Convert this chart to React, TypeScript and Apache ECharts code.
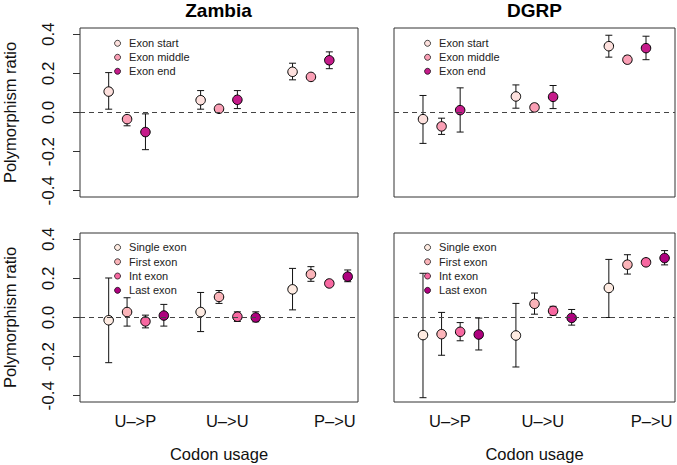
import React, { useEffect, useRef } from "react";
import * as echarts from "echarts";

// ---- Data ----
const CATEGORIES = ["U–>P", "U–>U", "P–>U"];
const CATEGORY_TICKS = [2.45, 7.45, 13.3];
const Y_TICKS = [-0.4, -0.2, 0, 0.2, 0.4];

const TOP_NAMES = ["Exon start", "Exon middle", "Exon end"];
const BOTTOM_NAMES = ["Single exon", "First exon", "Int exon", "Last exon"];

// Zambia, exon position (top-left)
const zambiaStart = [0.107, 0.063, 0.208];
const zambiaStartLo = [0.017, 0.017, 0.167];
const zambiaStartHi = [0.204, 0.112, 0.252];
const zambiaMiddle = [-0.034, 0.019, 0.182];
const zambiaMiddleLo = [-0.068, 0.01, 0.172];
const zambiaMiddleHi = [-0.017, 0.028, 0.192];
const zambiaEnd = [-0.1, 0.065, 0.267];
const zambiaEndLo = [-0.19, 0.02, 0.224];
const zambiaEndHi = [-0.007, 0.112, 0.31];

// DGRP, exon position (top-right)
const dgrpStart = [-0.034, 0.082, 0.339];
const dgrpStartLo = [-0.158, 0.022, 0.283];
const dgrpStartHi = [0.087, 0.141, 0.395];
const dgrpMiddle = [-0.071, 0.026, 0.27];
const dgrpMiddleLo = [-0.112, 0.009, 0.255];
const dgrpMiddleHi = [-0.029, 0.043, 0.288];
const dgrpEnd = [0.012, 0.08, 0.329];
const dgrpEndLo = [-0.1, 0.02, 0.27];
const dgrpEndHi = [0.126, 0.138, 0.39];

// Zambia, exon type (bottom-left)
const zambiaSingle = [-0.014, 0.028, 0.144];
const zambiaSingleLo = [-0.231, -0.072, 0.039];
const zambiaSingleHi = [0.202, 0.128, 0.251];
const zambiaFirst = [0.028, 0.105, 0.221];
const zambiaFirstLo = [-0.044, 0.072, 0.185];
const zambiaFirstHi = [0.101, 0.138, 0.26];
const zambiaInt = [-0.02, 0.004, 0.174];
const zambiaIntLo = [-0.053, -0.02, 0.165];
const zambiaIntHi = [0.012, 0.029, 0.183];
const zambiaLast = [0.01, 0.0, 0.209];
const zambiaLastLo = [-0.044, -0.022, 0.183];
const zambiaLastHi = [0.067, 0.029, 0.243];

// DGRP, exon type (bottom-right)
const dgrpSingle = [-0.09, -0.092, 0.151];
const dgrpSingleLo = [-0.41, -0.253, 0.0];
const dgrpSingleHi = [0.226, 0.072, 0.297];
const dgrpFirst = [-0.085, 0.07, 0.27];
const dgrpFirstLo = [-0.193, 0.017, 0.222];
const dgrpFirstHi = [0.026, 0.125, 0.321];
const dgrpInt = [-0.073, 0.034, 0.282];
const dgrpIntLo = [-0.119, 0.012, 0.265];
const dgrpIntHi = [-0.026, 0.057, 0.3];
const dgrpLast = [-0.087, -0.002, 0.304];
const dgrpLastLo = [-0.166, -0.039, 0.269];
const dgrpLastHi = [-0.003, 0.041, 0.342];

// ---- Styles ----
const TOP_COLORS = ["#FDE0DD", "#FA9FB5", "#C51B8A"];
const BOTTOM_COLORS = ["#FEEBE2", "#FBB4B9", "#F768A1", "#AE017E"];
const FONT = "Liberation Sans, Arial, Helvetica, sans-serif";

type Panel = {
  grid: { left: number; top: number; width: number; height: number };
  title?: string;
  names: string[];
  colors: string[];
  est: number[][];
  lo: number[][];
  hi: number[][];
  showY: boolean;
  showX: boolean;
  legendTop: number;
  legendLeft: number;
  legendLineHeight: number;
};

const PANELS: Panel[] = [
  {
    grid: { left: 79, top: 28, width: 279, height: 169 },
    title: "Zambia",
    names: TOP_NAMES,
    colors: TOP_COLORS,
    est: [zambiaStart, zambiaMiddle, zambiaEnd],
    lo: [zambiaStartLo, zambiaMiddleLo, zambiaEndLo],
    hi: [zambiaStartHi, zambiaMiddleHi, zambiaEndHi],
    showY: true,
    showX: false,
    legendTop: 36.3,
    legendLeft: 114.2,
    legendLineHeight: 14,
  },
  {
    grid: { left: 394, top: 28, width: 281, height: 169 },
    title: "DGRP",
    names: TOP_NAMES,
    colors: TOP_COLORS,
    est: [dgrpStart, dgrpMiddle, dgrpEnd],
    lo: [dgrpStartLo, dgrpMiddleLo, dgrpEndLo],
    hi: [dgrpStartHi, dgrpMiddleHi, dgrpEndHi],
    showY: false,
    showX: false,
    legendTop: 36.3,
    legendLeft: 424.2,
    legendLineHeight: 14,
  },
  {
    grid: { left: 79, top: 233, width: 279, height: 169 },
    names: BOTTOM_NAMES,
    colors: BOTTOM_COLORS,
    est: [zambiaSingle, zambiaFirst, zambiaInt, zambiaLast],
    lo: [zambiaSingleLo, zambiaFirstLo, zambiaIntLo, zambiaLastLo],
    hi: [zambiaSingleHi, zambiaFirstHi, zambiaIntHi, zambiaLastHi],
    showY: true,
    showX: true,
    legendTop: 240.3,
    legendLeft: 114.2,
    legendLineHeight: 14.3,
  },
  {
    grid: { left: 394, top: 233, width: 281, height: 169 },
    names: BOTTOM_NAMES,
    colors: BOTTOM_COLORS,
    est: [dgrpSingle, dgrpFirst, dgrpInt, dgrpLast],
    lo: [dgrpSingleLo, dgrpFirstLo, dgrpIntLo, dgrpLastLo],
    hi: [dgrpSingleHi, dgrpFirstHi, dgrpIntHi, dgrpLastHi],
    showY: false,
    showX: true,
    legendTop: 240.3,
    legendLeft: 424.2,
    legendLineHeight: 14.3,
  },
];

function buildOption() {
  const grid: any[] = [];
  const xAxis: any[] = [];
  const yAxis: any[] = [];
  const series: any[] = [];
  const legend: any[] = [];
  const title: any[] = [];

  PANELS.forEach((p, pi) => {
    grid.push({
      ...p.grid,
      show: true,
      borderColor: "#333",
      borderWidth: 1,
      backgroundColor: "transparent",
    });
    xAxis.push({
      type: "value",
      gridIndex: pi,
      position: "bottom",
      min: -0.56,
      max: 14.56,
      splitLine: { show: false },
      axisLine: { show: false, onZero: false },
      axisTick: { show: false },
      name: p.showX ? "Codon usage" : "",
      nameLocation: "middle",
      nameGap: 43,
      nameTextStyle: { fontSize: 16.5, color: "#111", fontFamily: FONT },
      axisLabel: {
        show: p.showX,
        customValues: CATEGORY_TICKS,
        margin: 10,
        fontSize: 16.5,
        color: "#111",
        fontFamily: FONT,
        formatter: (v: number) => {
          const i = CATEGORY_TICKS.findIndex((t) => Math.abs(t - v) < 1e-6);
          return i >= 0 ? CATEGORIES[i] : "";
        },
      },
    });
    yAxis.push({
      type: "value",
      gridIndex: pi,
      position: "left",
      min: -0.432,
      max: 0.432,
      splitLine: { show: false },
      axisLine: { show: false, onZero: false },
      axisTick: {
        show: p.showY,
        customValues: Y_TICKS,
        length: 7,
        lineStyle: { color: "#333", width: 1 },
      },
      name: p.showY ? "Polymorphism ratio" : "",
      nameLocation: "middle",
      nameRotate: 90,
      nameGap: 62,
      nameTextStyle: { fontSize: 16.5, color: "#111", fontFamily: FONT },
      axisLabel: {
        show: p.showY,
        customValues: Y_TICKS,
        rotate: 90,
        margin: 23,
        fontSize: 17,
        color: "#111",
        fontFamily: FONT,
        formatter: (v: number) => (Math.abs(v) < 1e-9 ? "0.0" : v.toFixed(1)),
      },
    });

    if (p.title) {
      title.push({
        text: p.title,
        left: p.grid.left + p.grid.width / 2,
        top: 1,
        textAlign: "center",
        padding: 0,
        textStyle: { fontSize: 19, fontWeight: "bold", color: "#000", fontFamily: FONT },
      });
    }

    legend.push({
      orient: "vertical",
      left: p.legendLeft,
      top: p.legendTop,
      padding: 0,
      itemGap: 0,
      itemWidth: 13,
      itemHeight: 6,
      icon: "circle",
      selectedMode: false,
      data: p.names,
      itemStyle: { borderColor: "#000", borderWidth: 0.7 },
      textStyle: {
        fontSize: 11,
        color: "#222",
        fontFamily: FONT,
        lineHeight: p.legendLineHeight,
      },
    });

    // error bars
    p.names.forEach((name, si) => {
      const data = p.est[si].map((_, gi) => [1 + 5 * gi + si, p.lo[si][gi], p.hi[si][gi]]);
      const s: any = {
        type: "custom",
        xAxisIndex: pi,
        yAxisIndex: pi,
        silent: true,
        encode: { x: 0, y: [1, 2] },
        data,
        z: 2,
        renderItem: (params: any, api: any) => {
          const x = api.value(0);
          const a = api.coord([x, api.value(2)]);
          const b = api.coord([x, api.value(1)]);
          const cap = 3.5;
          const style = { stroke: "#111", lineWidth: 1, fill: "none" };
          return {
            type: "group",
            children: [
              { type: "line", shape: { x1: a[0], y1: a[1], x2: b[0], y2: b[1] }, style },
              { type: "line", shape: { x1: a[0] - cap, y1: a[1], x2: a[0] + cap, y2: a[1] }, style },
              { type: "line", shape: { x1: b[0] - cap, y1: b[1], x2: b[0] + cap, y2: b[1] }, style },
            ],
          };
        },
      };
      if (si === 0) {
        s.markLine = {
          silent: true,
          symbol: "none",
          label: { show: false },
          lineStyle: { type: [5, 4], color: "#444", width: 1 },
          data: [{ yAxis: 0 }],
        };
      }
      series.push(s);
    });

    // points
    p.names.forEach((name, si) => {
      series.push({
        type: "scatter",
        name,
        xAxisIndex: pi,
        yAxisIndex: pi,
        symbol: "circle",
        symbolSize: 9.5,
        z: 3,
        itemStyle: { color: p.colors[si], borderColor: "#000", borderWidth: 1, opacity: 1 },
        emphasis: { disabled: true },
        data: p.est[si].map((v, gi) => [1 + 5 * gi + si, v]),
      });
    });
  });

  return {
    animation: false,
    backgroundColor: "#fff",
    textStyle: { fontFamily: FONT },
    title,
    legend,
    grid,
    xAxis,
    yAxis,
    series,
  };
}

export default function App() {
  const ref = useRef<HTMLDivElement>(null);
  useEffect(() => {
    if (!ref.current) return;
    const chart = echarts.init(ref.current, undefined, { renderer: "svg" });
    chart.setOption(buildOption() as any);
    return () => chart.dispose();
  }, []);
  return (
    <div
      ref={ref}
      style={{ position: "fixed", left: 0, top: 0, width: 677, height: 465, background: "#fff" }}
    />
  );
}
